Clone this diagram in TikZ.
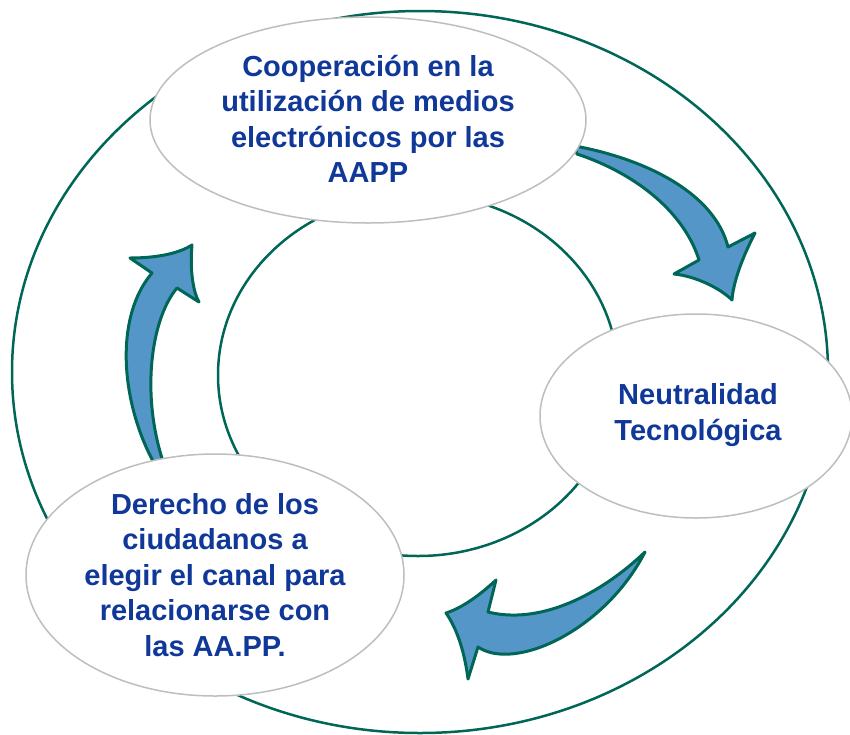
\documentclass[tikz,border=0pt]{standalone}
\usepackage{fontspec}
\setmainfont{Liberation Sans}
\usetikzlibrary{calc}
\definecolor{ringgreen}{RGB}{0,102,86}
\definecolor{arrowblue}{RGB}{84,150,200}
\definecolor{textblue}{RGB}{16,56,152}
\definecolor{ovalgray}{RGB}{190,190,190}

\begin{document}
\begin{tikzpicture}[x=1pt,y=-1pt,
	ring/.style={draw=ringgreen,line width=2.5pt},
	oval/.style={draw=ovalgray,fill=white,line width=1.5pt},
	turn/.style={draw=ringgreen,fill=arrowblue,line width=3pt,line join=round},
	ovaltext/.style={text=textblue,font=\bfseries\fontsize{29}{35.5}\selectfont,align=center,inner sep=0pt}]
\useasboundingbox (0,0) rectangle (850,734);
%rings
\draw[ring] (420,372) ellipse [x radius=408pt, y radius=361pt];
\draw[ring] (418,375) ellipse [x radius=200pt, y radius=181pt];
%arrow1
\filldraw[turn] (575,146) .. controls (650,160) and (715,195) .. (728,247)
	-- (755,233) .. controls (740,262) and (733,285) .. (732,300)
	.. controls (720,288) and (695,276) .. (674,274)
	-- (699,260) .. controls (685,215) and (640,175) .. (577,154) -- cycle;
%arrow2
\filldraw[turn] (645,552) .. controls (600,595) and (540,625) .. (488,612)
	-- (496,580) .. controls (480,595) and (462,608) .. (446,613)
	.. controls (458,630) and (465,655) .. (468,679)
	-- (478,647) .. controls (515,672) and (605,630) .. (645,552) -- cycle;
%arrow3
\filldraw[turn] (158,470) .. controls (122,410) and (112,320) .. (152,273)
	-- (130,258) .. controls (155,258) and (178,254) .. (192,245)
	.. controls (190,265) and (192,290) .. (199,302)
	-- (177,288) .. controls (150,320) and (140,400) .. (166,470) -- cycle;
%oval1
\begin{scope}[shift={(368,120)}]
	\filldraw[oval] (0,0) ellipse [x radius=218pt, y radius=103pt];
	\node[ovaltext] (coop) at (0,-1) {Cooperación en la\\utilización de medios\\electrónicos por las\\AAPP};
\end{scope}
%oval2
\begin{scope}[shift={(696,416)}]
	\filldraw[oval] (0,0) ellipse [x radius=156pt, y radius=102pt];
	\node[ovaltext] (neutral) at (2,-1) {Neutralidad\\Tecnológica};
\end{scope}
%oval3
\begin{scope}[shift={(215,575)}]
	\filldraw[oval] (0,0) ellipse [x radius=189pt, y radius=121pt];
	\node[ovaltext] (derecho) at (0,0) {Derecho de los\\ciudadanos a\\elegir el canal para\\relacionarse con\\las AA.PP.};
\end{scope}
\end{tikzpicture}
\end{document}
